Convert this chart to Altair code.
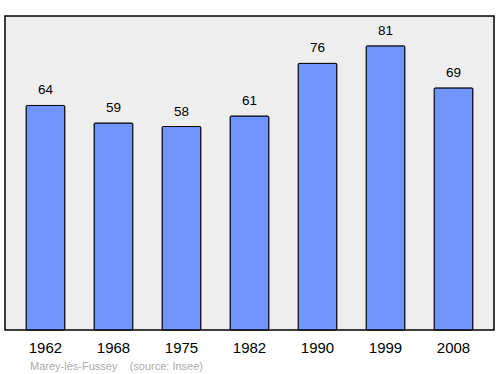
import altair as alt
import pandas as pd

years = ["1962", "1968", "1975", "1982", "1990", "1999", "2008"]
population = [64, 59, 58, 61, 76, 81, 69]

df = pd.DataFrame({"year": years, "pop": population})

x = alt.X("year:N", sort=years,
          scale=alt.Scale(paddingInner=0.43, paddingOuter=0.31),
          axis=alt.Axis(title=None, labelAngle=0, ticks=False, domain=False,
                        labelPadding=10, labelFontSize=15, labelColor="#000000",
                        labelFont="Liberation Sans"))
y = alt.Y("pop:Q", scale=alt.Scale(domain=[0, 89.5], nice=False, zero=True),
          axis=None)

bars = alt.Chart(df).mark_bar(color="#7095fe", stroke="#000000", strokeWidth=1,
                              cornerRadius=1).encode(x=x, y=y)
labels = alt.Chart(df).mark_text(dy=-15, fontSize=13.5, font="Liberation Sans",
                                 color="#000000").encode(x=x, y=y, text="pop:Q")

chart = (bars + labels).properties(
    width=489, height=314,
    padding={"left": 5, "top": 16, "right": 6, "bottom": 44},
    autosize=alt.AutoSizeParams(type="none"),
    title=alt.TitleParams("Marey-lès-Fussey\u00a0\u00a0\u00a0\u00a0(source: Insee)",
                          orient="bottom", anchor="start", fontSize=11,
                          fontWeight="normal", font="Liberation Sans",
                          color="#aaaaaa", offset=6, dx=25),
    background="#ffffff",
).configure_view(fill="#eeeeee", stroke="#000000", strokeWidth=1.5)

chart.save("out.html", embed_options={"renderer": "svg", "actions": False})
